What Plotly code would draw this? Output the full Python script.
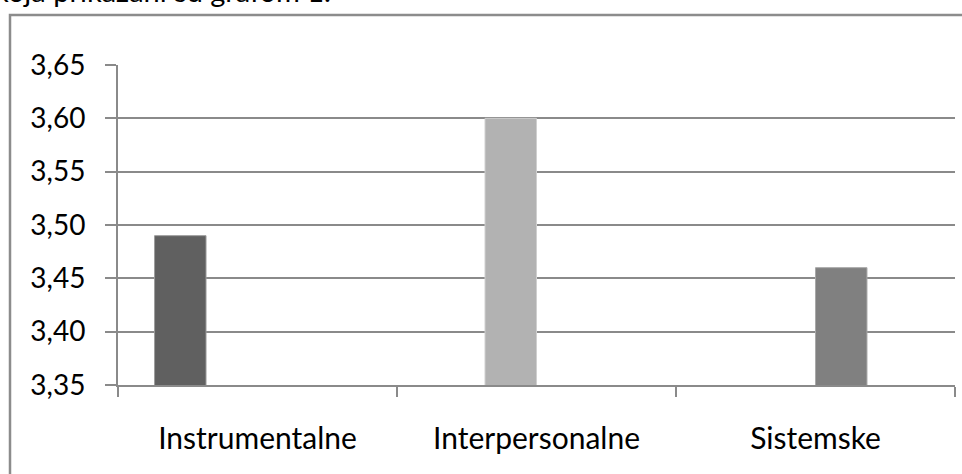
import plotly.graph_objects as go

categories = ["Instrumentalne", "Interpersonalne", "Sistemske"]
values = [3.49, 3.60, 3.46]
bar_colors = ["#606060", "#b2b2b2", "#808080"]
bar_edges = ["#9c9c9c", "#cfcfcf", "#a8a8a8"]
y_ticks = [3.35, 3.40, 3.45, 3.50, 3.55, 3.60, 3.65]
top_text = "koja prikazani su grafom 1."

W, H = 962, 474
L, R, T, B = 118, 7, 65, 89
PW, PH = W - L - R, H - T - B


def px_x(px):
    return (px - L) / PW


def px_y(py):
    return (H - B - py) / PH


FONT = "Lato, 'Liberation Sans', sans-serif"
GRID = "#8a8a8a"

fig = go.Figure()
for i, cat in enumerate(categories):
    fig.add_trace(go.Bar(
        x=categories,
        y=[values[j] if j == i else None for j in range(len(categories))],
        marker=dict(color=bar_colors[i], line=dict(color=bar_edges[i], width=1)),
        showlegend=False,
        hoverinfo="x+y",
    ))
# empty fourth series (keeps the fourth slot of each group)
fig.add_trace(go.Bar(x=categories, y=[0, 0, 0], marker=dict(color="rgba(0,0,0,0)"),
                     showlegend=False, hoverinfo="skip"))

fig.update_layout(
    width=W, height=H,
    margin=dict(l=L, r=R, t=T, b=B, autoexpand=False),
    paper_bgcolor="white", plot_bgcolor="white",
    barmode="group", bargap=0.262, bargroupgap=0,
    separators=", ",
    font=dict(family=FONT, size=28, color="#000000"),
    xaxis=dict(
        type="category", tickson="boundaries", ticks="outside", ticklen=10,
        tickwidth=2, tickcolor=GRID, showline=True, linecolor=GRID, linewidth=2,
        showgrid=False, ticklabelstandoff=26, automargin=False,
        tickfont=dict(family=FONT, size=30, color="#000000"),
    ),
    yaxis=dict(
        range=[3.35, 3.65], tickvals=y_ticks, tickformat=".2f",
        ticks="outside", ticklen=11, tickwidth=2, tickcolor=GRID,
        showline=True, linecolor=GRID, linewidth=2,
        showgrid=True, gridcolor=GRID, gridwidth=2, zeroline=False,
        ticklabelstandoff=14, automargin=False,
        tickfont=dict(family=FONT, size=28, color="#000000"),
    ),
    shapes=[dict(
        type="rect", xref="paper", yref="paper",
        x0=px_x(10), x1=px_x(990), y0=px_y(500), y1=px_y(15),
        line=dict(color="#8c8c8c", width=2.5), fillcolor="rgba(0,0,0,0)", layer="below",
    )],
    annotations=[dict(
        text=top_text, xref="paper", yref="paper",
        x=px_x(-8), y=px_y(-10), xanchor="left", yanchor="middle",
        showarrow=False, font=dict(family=FONT, size=29, color="#000000"),
    )],
)

fig.write_html(
    "out.html",
    config={"displayModeBar": False},
    post_script="document.body.style.margin='0';document.body.style.overflow='hidden';",
)
